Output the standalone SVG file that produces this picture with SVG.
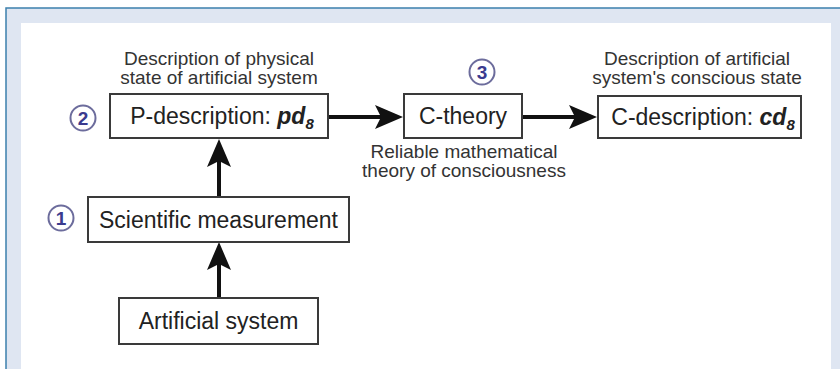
<svg xmlns="http://www.w3.org/2000/svg" width="840" height="369" viewBox="0 0 840 369">
<style>
.box{fill:#fff;stroke:#3a3a3a;stroke-width:2}
.lbl{font-family:"Liberation Sans",Arial,sans-serif;font-size:23px;fill:#222;text-anchor:middle}
.note{font-family:"Liberation Sans",Arial,sans-serif;font-size:19px;fill:#333;text-anchor:middle}
.num{font-family:"Liberation Sans",Arial,sans-serif;font-size:19px;font-weight:bold;fill:#3b3b8f;text-anchor:middle}
.ring{fill:#fff;stroke:#6c6c9c;stroke-width:2}
.conn{stroke:#111;stroke-width:4;fill:none;marker-end:url(#ah)}
.bi{font-weight:bold;font-style:italic}
</style>
<defs>
<marker id="ah" viewBox="0 0 28 24" refX="18" refY="12" markerUnits="userSpaceOnUse" markerWidth="28" markerHeight="24" orient="auto">
<path d="M0,0 L28,12 L0,24 L6,12 Z" fill="#111"/>
</marker>
</defs>
<rect x="0" y="0" width="840" height="369" fill="#fff"/>
<rect x="6" y="8" width="840" height="370" fill="#dfe6f2" stroke="#3d80ad" stroke-width="1.5"/>
<rect x="21" y="23" width="810" height="360" fill="#fff"/>

<g id="connectors">
<line class="conn" x1="219" y1="298" x2="219" y2="252"/>
<line class="conn" x1="219" y1="197" x2="219" y2="149"/>
<line class="conn" x1="328" y1="117" x2="393" y2="117"/>
<line class="conn" x1="522" y1="117" x2="587" y2="117"/>
</g>

<g id="p-description">
<text class="note" x="219" y="65">Description of physical</text>
<text class="note" x="219" y="84">state of artificial system</text>
<rect class="box" x="110" y="94" width="218" height="44"/>
<text class="lbl" x="222" y="124">P-description: <tspan class="bi">pd</tspan><tspan class="bi" font-size="15" dy="5">8</tspan></text>
</g>

<g id="c-theory">
<rect class="box" x="404" y="94" width="118" height="44"/>
<text class="lbl" x="463" y="124">C-theory</text>
<text class="note" x="464" y="158">Reliable mathematical</text>
<text class="note" x="464" y="177">theory of consciousness</text>
</g>

<g id="c-description">
<text class="note" x="697" y="65">Description of artificial</text>
<text class="note" x="697" y="84">system's conscious state</text>
<rect class="box" x="598" y="96" width="203" height="42"/>
<text class="lbl" x="703" y="125">C-description: <tspan class="bi">cd</tspan><tspan class="bi" font-size="15" dy="5">8</tspan></text>
</g>

<g id="scientific-measurement">
<rect class="box" x="88" y="197" width="261" height="45"/>
<text class="lbl" x="218.5" y="228">Scientific measurement</text>
</g>

<g id="artificial-system">
<rect class="box" x="119" y="298" width="199" height="46"/>
<text class="lbl" x="218.5" y="329">Artificial system</text>
</g>

<g id="step-1">
<circle class="ring" cx="61" cy="218" r="12.5"/>
<text class="num" x="61" y="225">1</text>
</g>
<g id="step-2">
<circle class="ring" cx="83" cy="118" r="12.5"/>
<text class="num" x="83" y="125">2</text>
</g>
<g id="step-3">
<circle class="ring" cx="482" cy="72" r="12.5"/>
<text class="num" x="482" y="79">3</text>
</g>
</svg>
